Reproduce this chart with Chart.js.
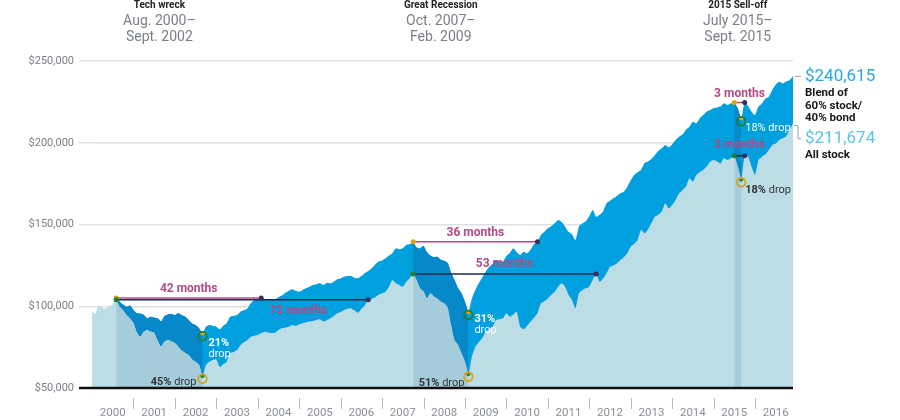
<!DOCTYPE html>
<html>
<head>
<meta charset="utf-8">
<script src="https://cdn.jsdelivr.net/npm/chart.js@4"></script>
<style>
  html, body { margin: 0; padding: 0; background: #fff; }
  #wrap { width: 900px; height: 420px; position: relative; }
</style>
</head>
<body>
<div id="wrap"><canvas id="myChart"></canvas></div>
<script>
const years = ['2000', '2001', '2002', '2003', '2004', '2005', '2006', '2007', '2008',
  '2009', '2010', '2011', '2012', '2013', '2014', '2015', '2016'];

// month-end values, $ thousands, Jan 2000 .. Dec 2016
const blend = [
  96.5, 95, 100, 98.5, 98, 100, 100.5, 105, 102.8, 101, 99.7, 100.5,
  97.7, 95.7, 95.5, 94.6, 92.6, 93.6, 93, 92.6, 90.6, 94, 95, 95.3,
  94.6, 95.7, 94.5, 93.6, 91.6, 89.5, 88.5, 86.5, 83.5, 87.5, 88.5, 88,
  87.5, 85.9, 88, 89.6, 93.6, 94, 94.6, 96.7, 97.5, 98.7, 101.8, 103.8,
  104.2, 105, 104.5, 103.8, 104, 104.2, 105.5, 106.5, 108.3, 109.5, 110.4, 109.5,
  108.9, 110, 111, 112, 113, 113.5, 114, 113, 114.4, 114, 115, 116.5,
  117, 118, 118.5, 118.5, 117.5, 117.1, 118.5, 120.2, 121.5, 123.2, 125.5, 127.3,
  128, 129.3, 131, 132.4, 135.4, 134.8, 135.5, 137.5, 138, 139.5, 136, 135.4,
  136.9, 133, 131, 129.9, 130.3, 128.5, 127.8, 126.5, 120.5, 116, 111, 108,
  102.8, 96.5, 104.8, 110, 114, 117.5, 121.1, 124, 126, 128.3, 127.5, 127.3,
  130.7, 132.5, 135.4, 133, 131.3, 133.4, 132.4, 134.5, 138, 139.5, 143.6, 145.5,
  147.7, 149, 150.7, 152.8, 151.5, 148.7, 145.5, 144, 140.5, 148.7, 150.7, 152,
  155, 158.9, 154.8, 156, 158, 163, 164.5, 166.1, 167.5, 169.1, 170.1, 173,
  177, 180.3, 182, 183.3, 187.4, 188.5, 190, 192.5, 195, 196.6, 198.6, 197.2,
  199, 201.7, 203.7, 205, 208, 209.8, 212.9, 211.9, 215, 217, 219, 220,
  221.1, 221.5, 222.1, 224.2, 223.1, 224, 224.6, 221, 215, 224.6, 222.5, 219,
  217, 222.1, 224, 227, 228.2, 232.3, 235.5, 237.3, 236.3, 237.5, 238.3, 240.6
];

const stock = [
  97, 95, 100.5, 99, 98.5, 100.1, 101, 104, 99.7, 97.5, 94.6, 92.5,
  89.8, 84, 81.4, 84.4, 85.5, 84.5, 83.6, 79, 75.3, 78.3, 79.4, 78.5,
  77.5, 75.3, 73, 71.4, 70.2, 67.5, 66.1, 64.1, 57.5, 64.1, 66, 67.1,
  67.5, 63, 64.5, 66.1, 71.4, 72, 73.2, 76.3, 78, 79.4, 81.4, 82,
  82.4, 83.6, 84.4, 84, 83.6, 83.8, 85.5, 86.5, 87, 87.5, 88.5, 88,
  89, 89.6, 90.2, 90.6, 91, 91.6, 92, 90.6, 91.5, 92.6, 94, 95.7,
  96.5, 97.7, 98.5, 98.7, 97.5, 96, 98.5, 100.5, 104, 104.5, 105.5, 107,
  108, 108.9, 112, 116, 114, 113, 112, 115, 117.1, 119.7, 116, 111,
  109, 104.8, 107.9, 106, 104.8, 102.8, 101.8, 99, 88, 79, 76.3, 71.2,
  66, 58.7, 69.1, 75.3, 78, 80.4, 84.4, 86, 87.5, 91.6, 92, 92.6,
  95.7, 93.6, 95, 96.7, 87.5, 85.9, 88, 90.6, 93, 95.7, 101.8, 103,
  104.8, 107, 108.9, 112, 114, 112, 107, 103.8, 98.7, 107.9, 110, 111,
  112, 116, 119.7, 115, 117, 120.2, 124.2, 125, 126.2, 128.3, 130, 132.4,
  136.4, 138, 140.5, 146.6, 144.6, 147, 150.7, 154.8, 156, 157.9, 163, 159.9,
  162, 165, 169.1, 171, 173.2, 178.3, 176.2, 180.3, 182, 183.3, 185.4, 188.4,
  189.4, 188.5, 187.4, 190.5, 189.4, 190.5, 192, 185.4, 177.6, 192, 191.5, 185.4,
  180.3, 189.4, 191.5, 193, 195.6, 198.6, 199.5, 201.7, 202.7, 204, 207.8, 211.7
];

// bear markets: month index of peak, trough, recovery
const bandStart = [7, 93, 186];
const bandEnd = [32, 109, 188];
const blendRecover = [49, 129, 189];
const stockRecover = [80, 146, 189];

const eventTitles = ['Tech wreck', 'Great Recession', '2015 Sell-off'];
const eventRanges = [['Aug. 2000–', 'Sept. 2002'], ['Oct. 2007–', 'Feb. 2009'], ['July 2015–', 'Sept. 2015']];
const blendMonths = ['42 months', '36 months', '3 months'];
const stockMonths = ['72 months', '53 months', '3 months'];
const blendDrops = ['21%', '31%', '18%'];
const stockDrops = ['45%', '51%', '18%'];
const endValues = ['$240,615', '$211,674'];

const FONT = 'Roboto, "Liberation Sans", sans-serif';
const PINK = '#b34a86';
const NAVY = '#1f2a4f';
const GOLD = '#d9a514';
const GREEN = '#1f7d35';

const inBand = i => bandStart.some((s, k) => i >= s && i <= bandEnd[k]);
const pts = arr => arr.map((v, i) => ({ x: i, y: v }));
const bandPts = arr => arr.map((v, i) => ({ x: i, y: inBand(i) ? v : null }));

function mixed(ctx, parts, x, y, align) {
  let w = 0;
  parts.forEach(p => { ctx.font = p[1]; w += ctx.measureText(p[0]).width; });
  let cx = align === 'right' ? x - w : x;
  ctx.textAlign = 'left';
  parts.forEach(p => { ctx.font = p[1]; ctx.fillText(p[0], cx, y); cx += ctx.measureText(p[0]).width; });
}

const notes = {
  id: 'notes',
  afterDatasetsDraw(chart) {
    const { ctx, chartArea, scales: { x, y } } = chart;
    const px = i => x.getPixelForValue(i);
    const py = v => y.getPixelForValue(v);
    const line = (x0, y0, x1, y1, c, w) => {
      ctx.strokeStyle = c; ctx.lineWidth = w;
      ctx.beginPath(); ctx.moveTo(x0, y0); ctx.lineTo(x1, y1); ctx.stroke();
    };
    const dot = (cx, cy, c, r) => { ctx.fillStyle = c; ctx.beginPath(); ctx.arc(cx, cy, r, 0, Math.PI * 2); ctx.fill(); };
    const ring = (cx, cy, c) => { ctx.strokeStyle = c; ctx.lineWidth = 1.8; ctx.beginPath(); ctx.arc(cx, cy, 4.3, 0, Math.PI * 2); ctx.stroke(); };

    ctx.save();
    // baseline at $50,000
    line(79, py(50), chartArea.right, py(50), '#111', 2.5);
    // year separators
    for (let k = 1; k < years.length; k++) {
      const sx = Math.round(px(k * 12)) + 0.5;
      line(sx, chartArea.bottom + 10, sx, chartArea.bottom + 21, '#b8bcc2', 1);
    }

    ctx.textBaseline = 'middle';
    bandStart.forEach((p, k) => {
      const x0 = px(p), yb = py(blend[p]), ys = py(stock[p]);
      const xb1 = px(blendRecover[k]), xs1 = px(stockRecover[k]);
      line(x0, yb, xb1, yb, PINK, 1.5);
      line(x0, ys, xs1, ys, NAVY, 1.5);
      dot(xb1, yb, '#3b2d5e', 2.5);
      dot(xs1, ys, '#3b2d5e', 2.5);
      dot(x0, yb, GOLD, 2.5);
      dot(x0, ys, GREEN, 2.5);

      // month labels
      ctx.fillStyle = PINK; ctx.font = 'bold 12px ' + FONT; ctx.textAlign = 'center';
      ctx.fillText(blendMonths[k], (x0 + xb1) / 2, yb - 9);
      const sdx = [56, 0, 0][k], sdy = [11, -10, -11][k];
      ctx.fillText(stockMonths[k], (x0 + xs1) / 2 + sdx, ys + sdy);

      // troughs
      const t = bandEnd[k], tx = px(t), tb = py(blend[t]), ts = py(stock[t]);
      dot(tx, tb, GOLD, 2.2); ring(tx, tb + 3, GREEN);
      dot(tx, ts, GREEN, 2.2); ring(tx, ts + 3, GOLD);
    });

    // drop labels
    const bold = 'bold 11px ' + FONT, reg = '11px ' + FONT;
    ctx.fillStyle = '#fff';
    let t = bandEnd[0];
    mixed(ctx, [[blendDrops[0], bold]], px(t) + 6, py(blend[t]) + 10);
    mixed(ctx, [['drop', reg]], px(t) + 6, py(blend[t]) + 21);
    t = bandEnd[1];
    mixed(ctx, [[blendDrops[1], bold]], px(t) + 6, py(blend[t]) + 7.5);
    mixed(ctx, [['drop', reg]], px(t) + 6, py(blend[t]) + 18);
    t = bandEnd[2];
    mixed(ctx, [[blendDrops[2] + ' drop', reg]], px(t) + 4, py(blend[t]) + 10);

    ctx.fillStyle = '#333';
    t = bandEnd[0];
    mixed(ctx, [[stockDrops[0], bold], [' drop', reg]], px(t) - 6, py(stock[t]) + 7, 'right');
    t = bandEnd[1];
    mixed(ctx, [[stockDrops[1], bold], [' drop', reg]], px(t) - 4, py(stock[t]) + 9, 'right');
    t = bandEnd[2];
    mixed(ctx, [[stockDrops[2], bold], [' drop', reg]], px(t) + 4, py(stock[t]) + 11);
    ctx.restore();
  },
  afterDraw(chart) {
    const { ctx, chartArea, scales: { x, y } } = chart;
    const px = i => x.getPixelForValue(i);
    const py = v => y.getPixelForValue(v);
    ctx.save();
    ctx.textBaseline = 'middle';

    // headers over each bear market
    bandStart.forEach((s, k) => {
      const cx = (px(s) + px(bandEnd[k])) / 2;
      ctx.textAlign = 'center';
      ctx.fillStyle = '#222'; ctx.font = 'bold 10px ' + FONT;
      ctx.fillText(eventTitles[k], cx, 5.5);
      ctx.fillStyle = '#7a7f86'; ctx.font = '14px ' + FONT;
      ctx.fillText(eventRanges[k][0], cx, 21);
      ctx.fillText(eventRanges[k][1], cx, 37.5);
    });

    // end labels
    const last = blend.length - 1;
    const ex = chartArea.right, yb = py(blend[last]), ys = py(stock[last]);
    ctx.strokeStyle = '#9aa0a6'; ctx.lineWidth = 1;
    ctx.beginPath(); ctx.moveTo(ex + 2, yb); ctx.lineTo(ex + 8, yb); ctx.stroke();
    ctx.beginPath(); ctx.moveTo(ex + 1, ys + 2); ctx.lineTo(ex + 5, ys + 2);
    ctx.lineTo(ex + 5, ys + 15); ctx.lineTo(ex + 8, ys + 15); ctx.stroke();

    ctx.textAlign = 'left';
    ctx.font = '17px ' + FONT; ctx.fillStyle = '#25a8e0';
    ctx.fillText(endValues[0], ex + 12, yb);
    ctx.fillStyle = '#5cc2e8';
    ctx.fillText(endValues[1], ex + 12, ys + 15);
    ctx.fillStyle = '#1a1a1a'; ctx.font = 'bold 11.5px ' + FONT;
    ctx.fillText('Blend of', ex + 12, yb + 17);
    ctx.fillText('60% stock/', ex + 12, yb + 29.5);
    ctx.fillText('40% bond', ex + 12, yb + 41.5);
    ctx.fillText('All stock', ex + 12, ys + 32);
    ctx.restore();
  }
};

const common = { borderWidth: 0, pointRadius: 0, tension: 0.2, fill: 'start', spanGaps: false };

const data = {
  datasets: [
    { ...common, label: 'Blend of 60% stock/40% bond', data: pts(blend), backgroundColor: '#00a0de', order: 4 },
    { ...common, label: 'Blend, bear market', data: bandPts(blend), backgroundColor: '#0788c8', order: 3 },
    { ...common, label: 'All stock', data: pts(stock), backgroundColor: '#bcdde6', order: 2 },
    { ...common, label: 'All stock, bear market', data: bandPts(stock), backgroundColor: '#a4ccda', order: 1 }
  ]
};

const config = {
  type: 'line',
  data: data,
  options: {
    responsive: true,
    maintainAspectRatio: false,
    animation: false,
    layout: { padding: { top: 61, right: 107, left: 0, bottom: 0 } },
    plugins: { legend: { display: false }, tooltip: { enabled: false } },
    scales: {
      x: {
        type: 'linear', min: 0, max: blend.length - 1,
        grid: { display: false }, border: { display: false },
        afterBuildTicks: s => { s.ticks = years.map((_, k) => ({ value: k * 12 + 6 })); },
        afterFit: s => { s.height = 32; },
        ticks: {
          autoSkip: false, maxRotation: 0, padding: 10, color: '#8a8f96',
          font: { family: FONT, size: 11.5 },
          callback: v => years[Math.floor(v / 12)]
        }
      },
      y: {
        min: 50, max: 250,
        afterFit: s => { s.width = 92; },
        border: { display: false },
        grid: { color: '#dde0e5', lineWidth: 1.5, tickLength: 13 },
        ticks: {
          stepSize: 50, padding: 5, color: '#7a7f86',
          font: { family: FONT, size: 11 },
          callback: v => '$' + v + ',000'
        }
      }
    }
  },
  plugins: [notes]
};

const myChart = new Chart(document.getElementById('myChart'), config);
</script>
</body>
</html>
